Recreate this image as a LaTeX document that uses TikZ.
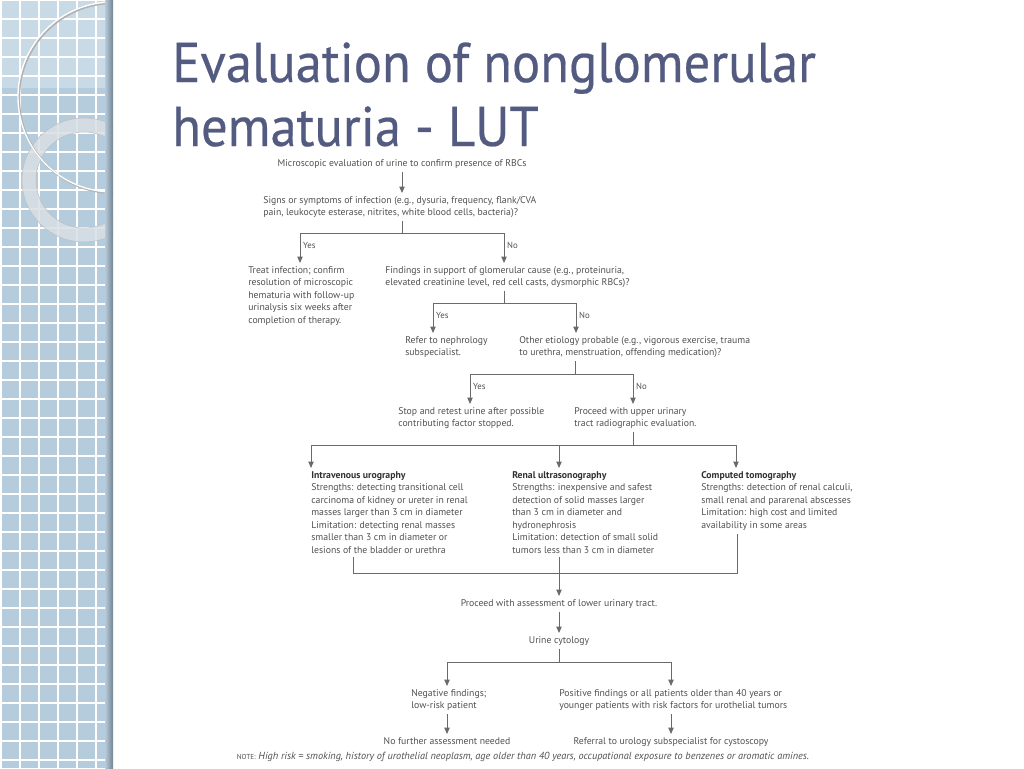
\documentclass[tikz,border=0pt]{standalone}
\usepackage{fontspec}
\setmainfont{PT Sans}
\newfontfamily\titlefont[FakeStretch=0.94, FakeBold=0.4]{PT Sans}
\usetikzlibrary{arrows.meta}

\definecolor{panelblue}{HTML}{B5CCDD}
\definecolor{panellight}{HTML}{C9DAE7}
\definecolor{ringgray}{HTML}{D9DFE5}
\definecolor{titleblue}{HTML}{535B80}
\definecolor{txtgray}{HTML}{505050}
\definecolor{headgray}{HTML}{303030}
\definecolor{linegray}{HTML}{6A6A6A}

\tikzset{
  flowtxt/.style={font=\fontsize{7.3}{9.4}\selectfont, text=txtgray, inner sep=0pt, outer sep=2.5pt, align=left, anchor=north west},
  midtxt/.style={flowtxt, align=center, anchor=north},
  yesno/.style={font=\fontsize{6.6}{7}\selectfont, text=txtgray, inner sep=0pt, anchor=west},
  flow/.style={draw=linegray, line width=0.7pt},
  arr/.style={flow, -{Triangle[length=4.8pt, width=4pt]}},
  titletxt/.style={font=\titlefont\fontsize{42}{50}\selectfont, text=titleblue, inner sep=0pt, text depth=0pt, anchor=base west}
}
\newcommand{\imghead}[1]{\textbf{\color{headgray}#1}}

\begin{document}
\begin{tikzpicture}[x=0.75pt, y=-0.75pt]
\useasboundingbox (0,0) rectangle (1024,768);

% side panel with grid and rings
\fill[panelblue] (0,0) rectangle (113,768);
\fill[panellight] (0,0) rectangle (113,88);
\foreach \g in {1,20,...,113}
  \draw[white, line width=0.8pt] (\g,0) -- (\g,768);
\foreach \g in {0,19,...,768}
  \draw[white, line width=0.8pt] (0,\g) -- (113,\g);
\begin{scope}
  \clip (0,0) rectangle (113,768);
  \draw[ringgray, opacity=0.85, line width=10.5pt] (84,180) circle (41.25pt);
  \draw[black!25, line width=0.4pt] (84,180) circle (46.5pt) (84,180) circle (36pt);
  \draw[black!30, line width=1.6pt] (114,98) circle (71.25pt);
  \draw[white, line width=1pt] (113,97) circle (71.25pt);
\end{scope}
\shade[left color=panelblue, right color=panelblue!65!black] (105,0) rectangle (113,768);

% title
\node[titletxt] (title1) at (172,82) {Evaluation of nonglomerular};
\node[titletxt] (title2) at (172,146) {hematuria - LUT};

% first question
\node[midtxt] (n1) at (402,156) {Microscopic evaluation of urine to confirm presence of RBCs};
\node[flowtxt] (n2) at (260,193) {Signs or symptoms of infection (e.g., dysuria, frequency, flank/CVA\\
  pain, leukocyte esterase, nitrites, white blood cells, bacteria)?};
\node[flowtxt] (n3) at (245,263) {Treat infection; confirm\\ resolution of microscopic\\
  hematuria with follow-up\\ urinalysis six weeks after\\ completion of therapy.};
\node[flowtxt] (n4) at (382,263) {Findings in support of glomerular cause (e.g., proteinuria,\\
  elevated creatinine level, red cell casts, dysmorphic RBCs)?};
\node[flowtxt] (n5) at (402,333) {Refer to nephrology\\ subspecialist.};
\node[flowtxt] (n6) at (516,333) {Other etiology probable (e.g., vigorous exercise, trauma\\
  to urethra, menstruation, offending medication)?};
\node[flowtxt] (n7) at (395,404) {Stop and retest urine after possible\\ contributing factor stopped.};
\node[flowtxt] (n8) at (571,404) {Proceed with upper urinary\\ tract radiographic evaluation.};

% imaging options
\node[flowtxt] (ivu) at (308,468) {\imghead{Intravenous urography}\\
  Strengths: detecting transitional cell\\ carcinoma of kidney or ureter in renal\\
  masses larger than 3 cm in diameter\\ Limitation: detecting renal masses\\
  smaller than 3 cm in diameter or\\ lesions of the bladder or urethra};
\node[flowtxt] (rus) at (509,468) {\imghead{Renal ultrasonography}\\
  Strengths: inexpensive and safest\\ detection of solid masses larger\\
  than 3 cm in diameter and\\ hydronephrosis\\
  Limitation: detection of small solid\\ tumors less than 3 cm in diameter};
\node[flowtxt] (ct) at (698,468) {\imghead{Computed tomography}\\
  Strengths: detection of renal calculi,\\ small renal and pararenal abscesses\\
  Limitation: high cost and limited\\ availability in some areas};

% lower tract
\node[midtxt] (n12) at (559,596) {Proceed with assessment of lower urinary tract.};
\node[midtxt] (n13) at (559,633) {Urine cytology};
\node[flowtxt] (n14) at (408,686) {Negative findings;\\ low-risk patient};
\node[flowtxt] (n15) at (556,686) {Positive findings or all patients older than 40 years or\\
  younger patients with risk factors for urothelial tumors};
\node[midtxt] (n16) at (447,734) {No further assessment needed};
\node[midtxt] (n17) at (671,734) {Referral to urology subspecialist for cystoscopy};
\node[midtxt, outer sep=0pt, font=\fontsize{7.7}{9}\selectfont] (note) at (523,752)
  {{\fontsize{5.4}{6}\selectfont NOTE:} \textit{High risk = smoking, history of urothelial neoplasm, age older than 40 years, occupational exposure to benzenes or aromatic amines.}};

% split points
\coordinate (s2) at (402,233);  \coordinate (s2l) at (300,233);  \coordinate (s2r) at (504,233);
\coordinate (s4) at (504,303);  \coordinate (s4l) at (433,303);  \coordinate (s4r) at (576,303);
\coordinate (s6) at (575,374);  \coordinate (s6l) at (470,374);  \coordinate (s6r) at (633,374);
\coordinate (s8) at (633,445);  \coordinate (s8l) at (311,445);  \coordinate (s8r) at (736,445);
\coordinate (m9) at (353,573);  \coordinate (m11) at (737,573);
\coordinate (s13) at (559,662); \coordinate (s13l) at (447,662); \coordinate (s13r) at (671,662);

% connectors
\draw[arr] (n1.south) -- (n1.south |- n2.north);
\foreach \s in {s2,s4,s6,s8,s13}
  \draw[flow] (\s l) -- (\s r);
\draw[flow] (n2.south -| s2) -- (s2);
\draw[arr] (s2l) -- (s2l |- n3.north);
\draw[arr] (s2r) -- (s2r |- n4.north);
\draw[flow] (n4.south -| s4) -- (s4);
\draw[arr] (s4l) -- (s4l |- n5.north);
\draw[arr] (s4r) -- (s4r |- n6.north);
\draw[flow] (n6.south -| s6) -- (s6);
\draw[arr] (s6l) -- (s6l |- n7.north);
\draw[arr] (s6r) -- (s6r |- n8.north);
\draw[flow] (n8.south -| s8) -- (s8);
\draw[arr] (s8l) -- (s8l |- ivu.north);
\draw[arr] (s8) ++(-74,0) coordinate (s8m) (s8m) -- (s8m |- rus.north);
\draw[arr] (s8r) -- (s8r |- ct.north);
\draw[flow] (ivu.south -| m9) -- (m9) -- (m11) -- (ct.south -| m11);
\draw[arr] (rus.south -| n12) -- (n12.north);
\draw[arr] (n12) -- (n13);
\draw[flow] (n13) -- (s13);
\draw[arr] (s13l) -- (s13l |- n14.north);
\draw[arr] (s13r) -- (s13r |- n15.north);
\draw[arr] (n14.south -| s13l) -- (n16.north);
\draw[arr] (n15.south -| s13r) -- (n17.north);

% yes / no labels
\foreach \s/\lab in {s2l/Yes,s2r/No,s4l/Yes,s4r/No,s6l/Yes,s6r/No}
  \node[yesno] at ([xshift=2.2pt,yshift=-9.5pt]\s) {\lab};
\end{tikzpicture}
\end{document}
